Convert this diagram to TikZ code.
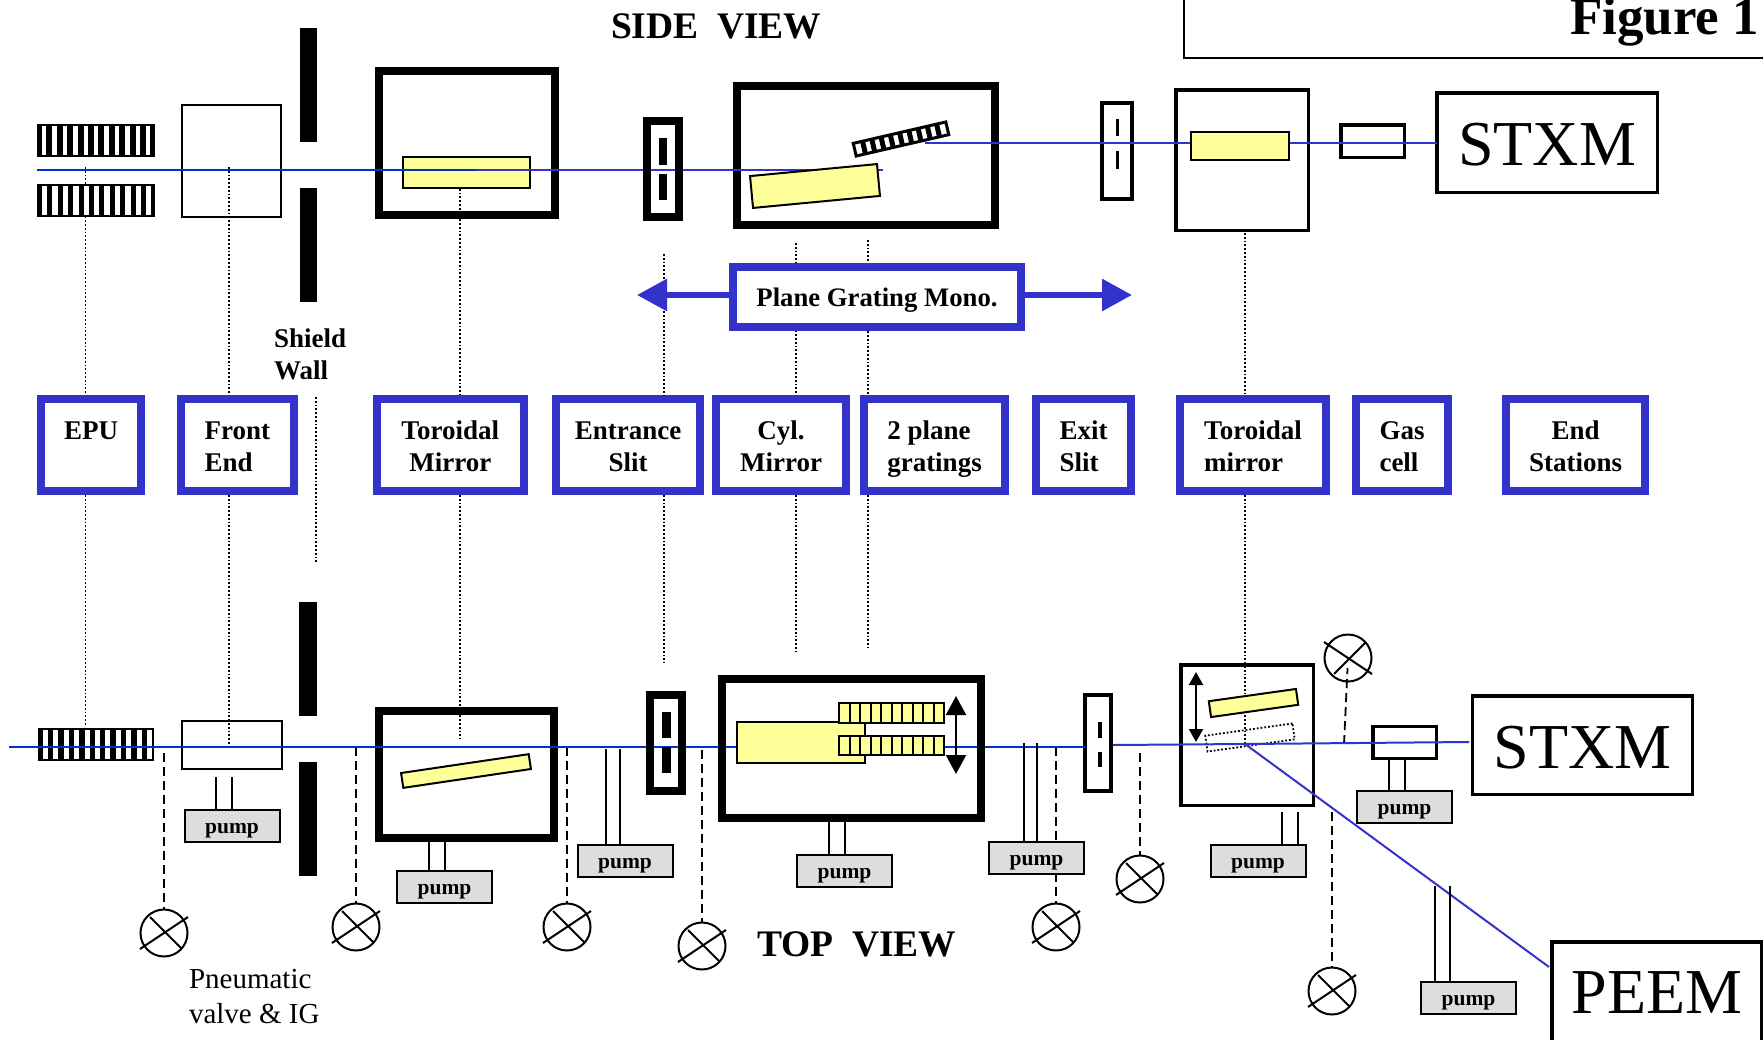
\documentclass[tikz,border=0pt]{standalone}
\usepackage{fontspec}
\setmainfont{Liberation Serif}
\usepackage{xcolor}
\usetikzlibrary{arrows.meta,calc}
\definecolor{monoblue}{HTML}{3333CC}
\definecolor{beamblue}{HTML}{0033CC}
\definecolor{mirroryellow}{HTML}{FFFF99}
\definecolor{pumpgray}{HTML}{DDDDDD}

\begin{document}
\begin{tikzpicture}[
    x=1pt,y=-1pt,
    every node/.style={inner sep=0pt,outer sep=0pt},
    sized/.style 2 args={minimum width=#1pt,minimum height=#2pt},
    plainbox/.style={draw,line width=2pt},
    thinwall/.style={draw,line width=3.5pt},
    thickwall/.style={draw,line width=8pt},
    solidbar/.style={fill=black},
    mirror/.style={draw,line width=2pt,fill=mirroryellow},
    ghost/.style={draw,line width=1.8pt,dash pattern=on 1.8pt off 2pt},
    pumpbox/.style={draw,line width=2pt,fill=pumpgray,sized={95}{32},
      font=\bfseries\fontsize{21.5}{26}\selectfont,text height=15pt,text depth=0pt},
    namebox/.style={draw=monoblue,line width=8pt,fill=white,
      font=\bfseries\fontsize{27}{32}\selectfont,
      execute at begin node={\rule{0pt}{59pt}},
      execute at end node={\rule[-7pt]{0pt}{7pt}}},
    station/.style={thinwall,font=\fontsize{64}{70}\selectfont,text height=46pt,text depth=0pt},
    valve/.style={draw,circle,line width=2pt,minimum size=47pt},
    beam/.style={line width=2pt,beamblue},
    beamtwo/.style={line width=2pt,monoblue},
    guide/.style={line width=1.8pt,dash pattern=on 1.8pt off 2pt},
    gauge/.style={line width=1.8pt,dash pattern=on 9pt off 5pt},
    tube/.style={line width=2pt},
    monoarrow/.style={-{Triangle[length=30pt,width=31pt]},line width=6pt,monoblue},
    moveone/.style={{Triangle[length=19pt,width=20pt]}-{Triangle[length=19pt,width=20pt]},line width=2pt},
    movetwo/.style={{Triangle[length=13pt,width=14pt]}-{Triangle[length=13pt,width=14pt]},line width=2pt},
    heading/.style={font=\bfseries\fontsize{37.5}{42}\selectfont,anchor=base west},
    note/.style={align=left,anchor=north west}
  ]
    \useasboundingbox (0,0) rectangle (1763,1039);
    \clip (0,0) rectangle (1763,1039);

    \node[plainbox,sized={716}{88}] (figbox) at (1542,13.5) {};
    \node[font=\bfseries\fontsize{53}{56}\selectfont,anchor=base east] (figtitle) at (1759,34) {Figure 1};
    \node[heading] (sideview) at (611,38) {SIDE\ \ VIEW};
    \node[heading] (topview) at (757,956) {TOP\ \ VIEW};

    % names in the middle row
    \node[namebox,sized={100}{92},align=center] (epu) at (91,445) {EPU\\\mbox{}};
    \node[namebox,sized={112.5}{92},align=left] (frontend) at (237.25,445) {Front\\End};
    \node[namebox,sized={146.5}{92},align=center] (toroidal) at (450.25,445) {Toroidal\\Mirror};
    \node[namebox,sized={144}{92},align=center] (entrance) at (628,445) {Entrance\\Slit};
    \node[namebox,sized={130}{92},align=center] (cylmirror) at (781,445) {Cyl.\\Mirror};
    \node[namebox,sized={141}{92},align=left] (gratings) at (934.5,445) {2 plane\\gratings};
    \node[namebox,sized={95}{92},align=left] (exitslit) at (1083.5,445) {Exit\\Slit};
    \node[namebox,sized={146}{92},align=left] (toroidalr) at (1253,445) {Toroidal\\mirror};
    \node[namebox,sized={92}{92},align=left] (gascell) at (1402,445) {Gas\\cell};
    \node[namebox,sized={139}{92},align=center] (endst) at (1575.5,445) {End\\Stations};

    \foreach \n/\cx/\t/\b in {epu/85.5/167/725,frontend/229/167/745,toroidal/460/166/739,
        entrance/664/254/663,cylmirror/796/243/652,gratings/868/240/648,toroidalr/1245/233/743} {
      \coordinate (up\n) at (\cx,\t);
      \coordinate (down\n) at (\cx,\b);
      \draw[guide,shorten >=4pt] (up\n) -- (up\n |- \n.north);
      \draw[guide,shorten <=4pt] (down\n |- \n.south) -- (down\n);
    }
    \coordinate (shieldup) at (316,397);
    \coordinate (shielddown) at (316,562);
    \draw[guide] (shieldup) -- (shielddown);
    \node[note,font=\bfseries\fontsize{27}{32}\selectfont] (shieldtext) at (274,329) {Shield\\Wall};
    \node[note,font=\fontsize{29}{35}\selectfont] (valvetext) at (189,969.5) {Pneumatic\\valve \& IG};

    % side view
    \node[solidbar,sized={118}{33}] (undsidea) at (96,140.5) {};
    \node[solidbar,sized={118}{33}] (undsideb) at (96,200.5) {};
    \node[solidbar,sized={116}{33}] (undtop) at (96,744.5) {};
    \foreach \n/\wd in {undsidea/4.4,undsideb/5.4,undtop/5}
      \foreach \i in {0,...,10}
        \fill[white] ($(\n.north west)+(5+10.4*\i,2)$) rectangle +(\wd,29);

    \node[plainbox,sized={99}{112}] (frontside) at (231,160.5) {};
    \node[solidbar,sized={17}{114}] (wallsidea) at (308.5,85) {};
    \node[solidbar,sized={17}{114}] (wallsideb) at (308.5,245) {};
    \node[thickwall,sized={176}{144}] (torside) at (467,143) {};
    \node[mirror,sized={127}{31}] (torsidemirror) at (466.5,172.5) {};
    \node[thickwall,sized={258}{139}] (monoside) at (866,155.5) {};

    \coordinate (beamstart) at (37,170);
    \coordinate (beamsplit) at (475,170);
    \coordinate (beamend) at (883,170);
    \draw[beam] (beamstart) -- (beamsplit);
    \draw[beamtwo] (beamsplit) -- (beamend);

    \node[mirror,rotate=5.4,sized={127.5}{32}] (cylside) at (815,186) {};
    \node[draw,line width=3pt,fill=white,rotate=13,sized={95}{13}] (gratside) at (901,139) {};
    \foreach \i in {1,...,9}
      \draw[line width=5pt] ($(gratside.north west)!\i/10!(gratside.north east)$) -- ($(gratside.south west)!\i/10!(gratside.south east)$);

    \node[thickwall,sized={32}{96}] (slitside) at (663,169) {};
    \node[solidbar,sized={8}{27}] (slitsidea) at (663,151.5) {};
    \node[solidbar,sized={8}{26}] (slitsideb) at (663,187) {};
    \node[thinwall,sized={30}{96}] (exitside) at (1117,151) {};
    \node[solidbar,sized={3}{17}] (exitsidea) at (1117,127.5) {};
    \node[solidbar,sized={3}{18}] (exitsideb) at (1117,160) {};
    \node[thinwall,sized={132.5}{140.5}] (torrside) at (1242,160) {};
    \node[thinwall,sized={63.5}{32.5}] (gasside) at (1372.5,141) {};
    \node[station,sized={220.5}{99.5}] (stxmside) at (1547,142.5) {STXM};

    \coordinate (beamback) at (925,143);
    \draw[beamtwo] (beamback) -- (stxmside.west |- beamback);
    \node[mirror,sized={98}{28}] (torrsidemirror) at (1240,146) {};

    % plane grating mono label
    \coordinate (monoleft) at (637,295);
    \coordinate (monoright) at (1132,295);
    \node[draw=monoblue,line width=8pt,fill=white,sized={288}{60},
      font=\bfseries\fontsize{26.7}{30}\selectfont,text height=19pt,text depth=0pt] (monobox) at (877,297) {Plane Grating Mono.};
    \draw[monoarrow] (monobox.west |- monoleft) -- (monoleft);
    \draw[monoarrow] (monobox.east |- monoright) -- (monoright);

    % top view
    \node[plainbox,sized={100}{48}] (fronttop) at (231.5,744.5) {};
    \node[solidbar,sized={18}{114}] (walltopa) at (308,659) {};
    \node[solidbar,sized={18}{114}] (walltopb) at (308,819) {};
    \node[thickwall,sized={175}{127}] (tortop) at (466.5,774.5) {};
    \node[mirror,rotate=8.4,sized={129}{15}] (tortopmirror) at (466,771) {};

    \foreach \n/\cx/\cy/\t in {1/164/933/753,2/356/927/747,3/567/927/747,4/702/946/750,
        5/1056/927/747,6/1140/879/753,8/1332/991/812} {
      \node[valve] (v\n) at (\cx,\cy) {};
      \coordinate (tap\n) at (\cx,\t);
      \draw[gauge] (tap\n) -- (v\n);
    }
    \node[valve] (v7) at (1348,658) {};
    \coordinate (tap7) at (1344,744);
    \draw[gauge,shorten >=10pt] (tap7) -- (v7.center);
    \foreach \n/\f in {1/1,2/1,3/1,4/1,5/1,6/1,7/-1,8/1} {
      \draw[tube] ($(v\n)+(-24,\f*16)$) -- ($(v\n)+(24,-\f*16)$);
      \draw[tube] ($(v\n)+(-14,-\f*16)$) -- ($(v\n)+(18,\f*16)$);
    }

    \coordinate (topstart) at (9,746.7);
    \node[thinwall,sized={26}{96}] (exittop) at (1098,743) {};
    \draw[beam] (topstart) -- (exittop.west |- topstart);
    \node[thickwall,sized={259}{139}] (monotop) at (851.5,748.5) {};
    \node[mirror,sized={128}{41}] (cyltop) at (801,742.5) {};
    \node[mirror,sized={105}{20}] (grattopa) at (891.5,713) {};
    \node[mirror,sized={105}{19}] (grattopb) at (891.5,745.5) {};
    \foreach \g in {grattopa,grattopb}
      \foreach \i in {1,...,9}
        \draw[line width=2pt] ($(\g.north west)!\i/10!(\g.north east)$) -- ($(\g.south west)!\i/10!(\g.south east)$);
    \coordinate (moveup) at (956,696);
    \coordinate (movedown) at (956,774);
    \draw[moveone] (moveup) -- (movedown);

    \node[thickwall,sized={32}{96}] (slittop) at (666,743) {};
    \node[solidbar,sized={9}{26}] (slittopa) at (666,725) {};
    \node[solidbar,sized={9}{26}] (slittopb) at (666,760) {};
    \node[solidbar,sized={3.5}{16}] (exittopa) at (1100,730) {};
    \node[solidbar,sized={3.5}{15}] (exittopb) at (1100,759.5) {};

    \node[thinwall,sized={132.5}{140.5}] (torrtop) at (1247,735) {};
    \node[mirror,rotate=8,sized={88}{16}] (torrtopmirror) at (1253.5,703) {};
    \node[ghost,rotate=8,sized={88}{16}] (torrtopghost) at (1250,737.5) {};
    \coordinate (moveupr) at (1196,672);
    \coordinate (movedownr) at (1196,742);
    \draw[movetwo] (moveupr) -- (movedownr);
    \node[thinwall,sized={63.5}{32}] (gastop) at (1404.5,742.5) {};
    \node[station,sized={220}{98.5}] (stxmtop) at (1582.5,745) {STXM};
    \node[station,sized={210}{100},text height=43pt] (peem) at (1657,992) {PEEM};

    \coordinate (backstart) at (1113,745);
    \coordinate (split) at (1245,744);
    \coordinate (backend) at (1469,742);
    \draw[beamtwo] (backstart) -- (split) -- (backend);
    \coordinate (peemend) at (1549,967);
    \draw[beamtwo] (split) -- (peemend);

    % pumps
    \node[pumpbox] (pumpfront) at (232,825.5) {pump};
    \node[pumpbox] (pumptor) at (444.5,886.5) {pump};
    \node[pumpbox] (pumpslit) at (625,861) {pump};
    \node[pumpbox] (pumpmono) at (844.5,870.5) {pump};
    \node[pumpbox] (pumpexit) at (1036.5,857.5) {pump};
    \node[pumpbox] (pumptorr) at (1258,860.5) {pump};
    \node[pumpbox] (pumpgas) at (1404.5,807) {pump};
    \node[pumpbox] (pumppeem) at (1468.5,998) {pump};
    \foreach \n/\xa/\xb/\top in {pumpfront/-16/0/777,pumptor/-16/0/842,pumpslit/-19/-5/749,
        pumpmono/-16/0/822,pumpexit/-13/0/743,pumptorr/24/40/812,pumpgas/-16/0/760,pumppeem/-33.5/-18.5/886} {
      \draw[tube] ([xshift=\xa pt]\n.north) -- ([xshift=\xa pt]\n.north |- 0,\top);
      \draw[tube] ([xshift=\xb pt]\n.north) -- ([xshift=\xb pt]\n.north |- 0,\top);
    }
  \end{tikzpicture}
\end{document}
